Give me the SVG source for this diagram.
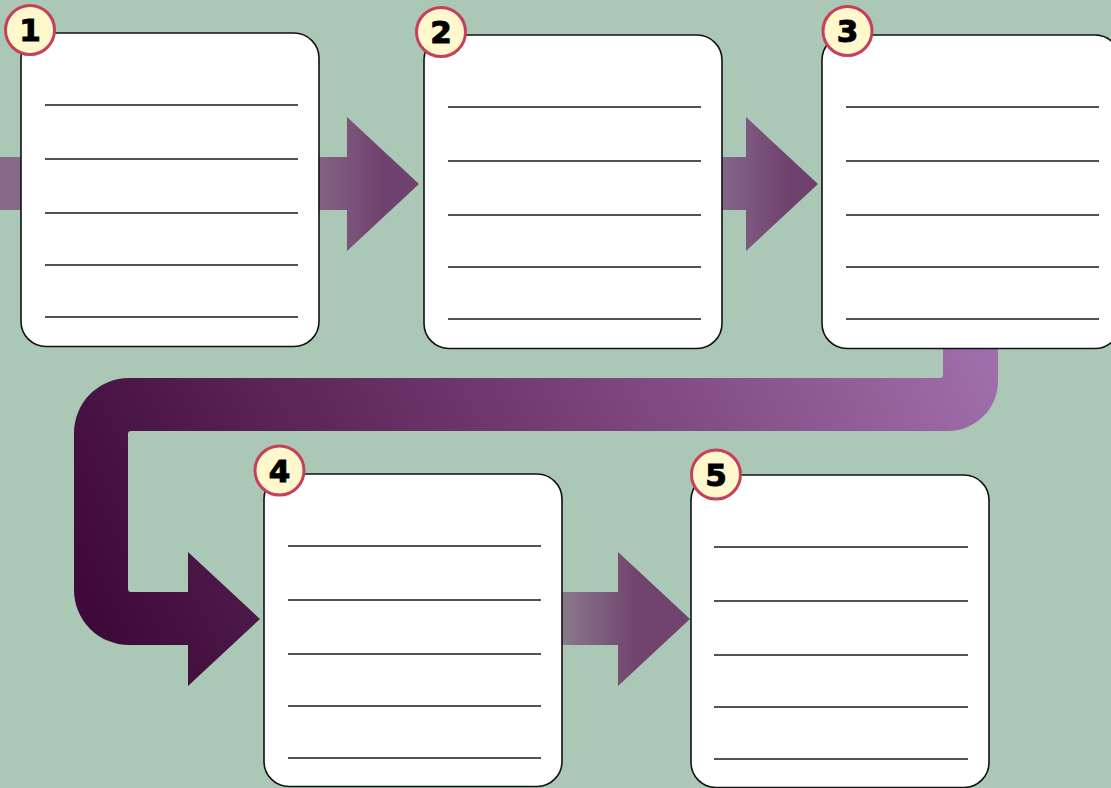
<svg xmlns="http://www.w3.org/2000/svg" width="1111" height="788" viewBox="0 0 1111 788">
  <defs>
    <style>
      .card { fill: #ffffff; stroke: #111111; stroke-width: 1.6; }
      .rule { stroke: #1a1a1a; stroke-width: 1.3; fill: none; }
      .badge { fill: #fff8cc; stroke: #c63f5b; stroke-width: 3; }
      .num { font-family: "DejaVu Sans", "Liberation Sans", sans-serif; font-weight: bold; font-size: 31px; fill: #000000; text-anchor: middle; stroke: #000000; stroke-width: 1; }
    </style>
    <linearGradient id="gArrow1" gradientUnits="userSpaceOnUse" x1="305" y1="0" x2="385" y2="0">
      <stop offset="0" stop-color="#876a88"/>
      <stop offset="1" stop-color="#6f416e"/>
    </linearGradient>
    <linearGradient id="gArrow2" gradientUnits="userSpaceOnUse" x1="722" y1="0" x2="790" y2="0">
      <stop offset="0" stop-color="#84668a"/>
      <stop offset="1" stop-color="#6f416e"/>
    </linearGradient>
    <linearGradient id="gArrow5" gradientUnits="userSpaceOnUse" x1="562" y1="0" x2="635" y2="0">
      <stop offset="0" stop-color="#8a7a8c"/>
      <stop offset="1" stop-color="#71446f"/>
    </linearGradient>
    <linearGradient id="gBend" gradientUnits="userSpaceOnUse" x1="140" y1="700" x2="960" y2="300">
      <stop offset="0" stop-color="#3d0a39"/>
      <stop offset="0.45" stop-color="#6c3569"/>
      <stop offset="1" stop-color="#a06eaa"/>
    </linearGradient>
  </defs>

  <rect x="0" y="0" width="1111" height="788" fill="#aac8b5"/>

  <g id="connectors">
    <path d="M0,157 H347 V117 L419,184 L347,251 V210 H0 Z" fill="url(#gArrow1)"/>
    <path d="M722,157 H746 V117 L818,184 L746,251 V210 H722 Z" fill="url(#gArrow2)"/>
    <path d="M943,349 V375 A3,3 0 0 1 940,378 H129 A55,55 0 0 0 74,433 V590 A55,55 0 0 0 129,645 H188 V686 L260,619 L188,552 V592 H131 A3,3 0 0 1 128,589 V434 A3,3 0 0 1 131,431 H948 A50,50 0 0 0 998,381 V349 Z" fill="url(#gBend)"/>
    <path d="M562,592 H618 V552 L690,619 L618,686 V645 H562 Z" fill="url(#gArrow5)"/>
  </g>

  <g id="step1">
    <rect class="card" x="21" y="33" width="298" height="313.5" rx="25"/>
    <path class="rule" d="M45,105 H298 M45,159 H298 M45,213 H298 M45,265 H298 M45,317 H298"/>
    <circle class="badge" cx="30" cy="30" r="24.5"/>
    <text class="num" x="30" y="41">1</text>
  </g>

  <g id="step2">
    <rect class="card" x="424" y="35" width="298" height="313.5" rx="25"/>
    <path class="rule" d="M448,107 H701 M448,161 H701 M448,215 H701 M448,267 H701 M448,319 H701"/>
    <circle class="badge" cx="441" cy="32" r="24.5"/>
    <text class="num" x="441" y="43">2</text>
  </g>

  <g id="step3">
    <rect class="card" x="822" y="35" width="298" height="313.5" rx="25"/>
    <path class="rule" d="M846,107 H1099 M846,161 H1099 M846,215 H1099 M846,267 H1099 M846,319 H1099"/>
    <circle class="badge" cx="847.5" cy="31" r="24.5"/>
    <text class="num" x="847.5" y="42">3</text>
  </g>

  <g id="step4">
    <rect class="card" x="264" y="474" width="298" height="312.5" rx="25"/>
    <path class="rule" d="M288,546 H541 M288,600 H541 M288,654 H541 M288,706 H541 M288,758 H541"/>
    <circle class="badge" cx="279.5" cy="470.5" r="24.5"/>
    <text class="num" x="279.5" y="481.5">4</text>
  </g>

  <g id="step5">
    <rect class="card" x="691" y="475" width="298" height="312.5" rx="25"/>
    <path class="rule" d="M714,547 H968 M714,601 H968 M714,655 H968 M714,707 H968 M714,759 H968"/>
    <circle class="badge" cx="716" cy="474.5" r="24.5"/>
    <text class="num" x="716" y="485.5">5</text>
  </g>
</svg>
